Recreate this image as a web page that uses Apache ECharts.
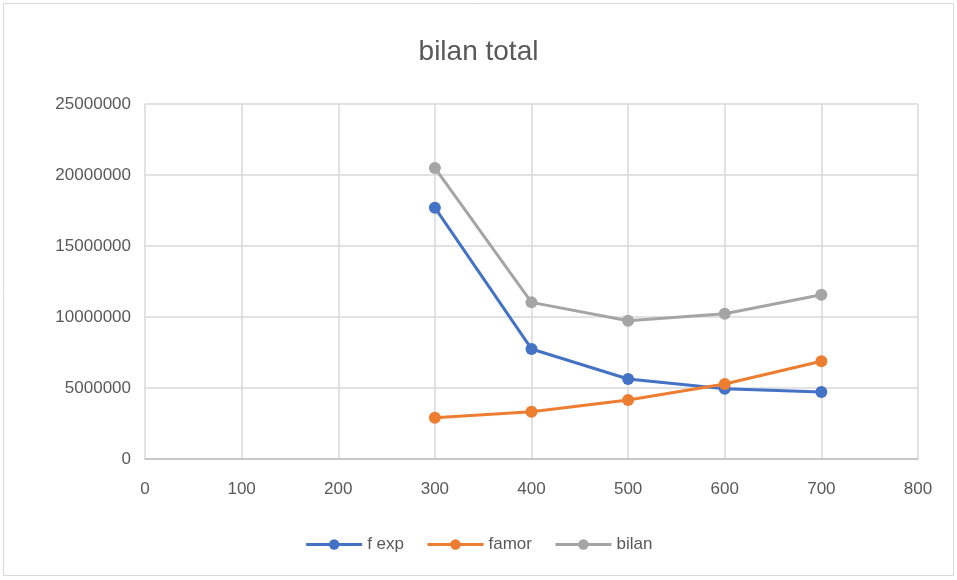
<!DOCTYPE html>
<html>
<head>
<meta charset="utf-8">
<script src="https://cdn.jsdelivr.net/npm/echarts@6/dist/echarts.min.js"></script>
<style>
  html, body { margin: 0; padding: 0; background: #fff; }
  #chart { width: 957px; height: 580px; }
</style>
</head>
<body>
<div id="chart"></div>
<script>
// x values (valeur) and the three series
var xValues = [300, 400, 500, 600, 700];
var fExp = [17700000, 7750000, 5630000, 4950000, 4720000];
var famor = [2910000, 3330000, 4150000, 5280000, 6880000];
var bilan = [20500000, 11030000, 9740000, 10230000, 11570000];

var textColor = '#595959';
var fontFam = 'Liberation Sans, Arial, sans-serif';

function pairs(ys) {
    return xValues.map(function (x, i) { return [x, ys[i]]; });
}

function makeSeries(name, ys, color) {
    return {
        name: name,
        type: 'line',
        data: pairs(ys),
        symbol: 'circle',
        symbolSize: 12,
        lineStyle: { width: 3, color: color },
        itemStyle: { color: color },
        emphasis: { disabled: true }
    };
}

var chart = echarts.init(document.getElementById('chart'));

var option = {
    animation: false,
    title: {
        text: 'bilan total',
        left: 'center',
        top: 33,
        textStyle: { color: textColor, fontSize: 28, fontWeight: 'normal', fontFamily: fontFam }
    },
    graphic: [{
        type: 'rect',
        shape: { x: 3.5, y: 3.5, width: 950, height: 572 },
        style: { fill: 'none', stroke: '#D9D9D9', lineWidth: 1 },
        silent: true
    }],
    legend: {
        bottom: 22,
        left: 'center',
        itemWidth: 56,
        itemHeight: 13,
        itemGap: 22,
        lineStyle: { width: 3 },
        textStyle: { color: textColor, fontSize: 17, fontFamily: fontFam },
        data: ['f exp', 'famor', 'bilan']
    },
    grid: { left: 145, right: 39, top: 104, bottom: 121 },
    xAxis: {
        type: 'value',
        min: 0,
        max: 800,
        interval: 100,
        axisLine: { show: true, lineStyle: { color: '#BFBFBF', width: 1.5 } },
        axisTick: { show: false },
        axisLabel: { color: textColor, fontSize: 17, margin: 22, fontFamily: fontFam },
        splitLine: { show: true, lineStyle: { color: '#D9D9D9', width: 1.5 } }
    },
    yAxis: {
        type: 'value',
        min: 0,
        max: 25000000,
        interval: 5000000,
        axisLine: { show: false },
        axisTick: { show: false },
        axisLabel: {
            color: textColor, fontSize: 17, margin: 14, fontFamily: fontFam,
            formatter: function (v) { return String(v); }
        },
        splitLine: { show: true, lineStyle: { color: '#D9D9D9', width: 1.5 } }
    },
    series: [
        makeSeries('f exp', fExp, '#4472C4'),
        makeSeries('famor', famor, '#ED7D31'),
        makeSeries('bilan', bilan, '#A5A5A5')
    ]
};

chart.setOption(option);
</script>
</body>
</html>
